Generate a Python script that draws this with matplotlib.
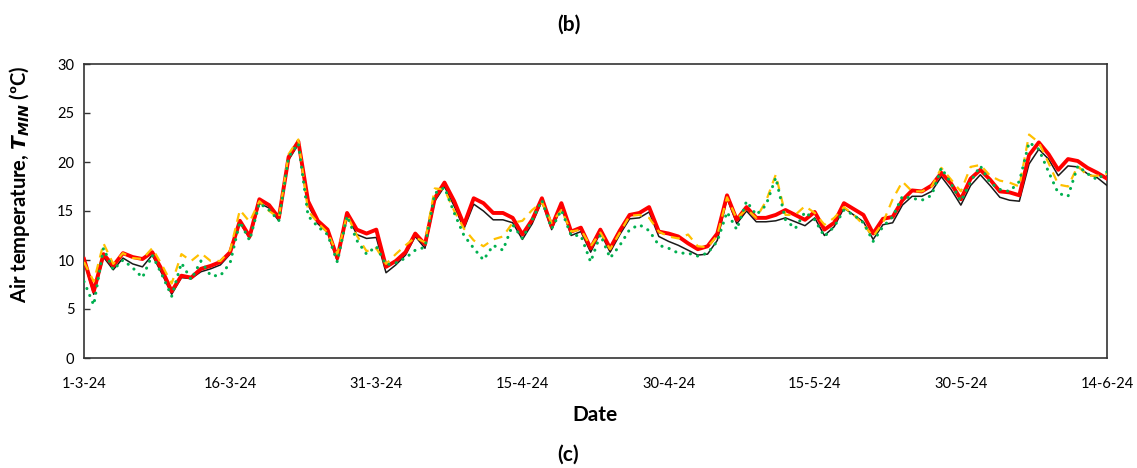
import matplotlib
matplotlib.use("Agg")
import matplotlib.pyplot as plt
import matplotlib.dates as mdates
from matplotlib.ticker import FuncFormatter
import pandas as pd

dates = pd.date_range("2024-03-01", "2024-06-14", freq="D")

red = [10.1, 6.8, 10.6, 9.4, 10.7, 10.3, 10.1, 10.8, 9.0, 6.8,
       8.4, 8.2, 9.1, 9.4, 9.8, 10.8, 14.0, 12.4, 16.2, 15.6,
       14.3, 20.5, 22.1, 16.0, 14.0, 13.1, 10.2, 14.8, 13.1, 12.7,
       13.1, 9.3, 9.9, 10.8, 12.7, 11.6, 16.3, 17.9, 16.0, 13.6,
       16.3, 15.8, 14.8, 14.8, 14.3, 12.6, 14.1, 16.3, 13.4, 15.8,
       12.9, 13.3, 11.2, 13.1, 11.2, 13.0, 14.6, 14.8, 15.4, 12.9,
       12.7, 12.4, 11.7, 11.1, 11.4, 12.7, 16.6, 14.1, 15.4, 14.3,
       14.3, 14.6, 15.1, 14.6, 14.1, 14.9, 13.1, 13.8, 15.8, 15.2,
       14.6, 12.7, 14.2, 14.4, 16.1, 17.1, 17.0, 17.6, 18.9, 17.8,
       16.2, 18.3, 19.2, 18.2, 17.0, 16.9, 16.6, 20.7, 22.0, 20.8,
       19.2, 20.3, 20.1, 19.4, 18.9, 18.3]

black = [9.9, 6.5, 10.3, 9.0, 10.2, 9.6, 9.3, 10.5, 8.6, 6.5,
         8.2, 8.1, 8.8, 9.1, 9.5, 10.6, 13.8, 12.2, 15.8, 15.3,
         14.0, 20.2, 21.8, 15.6, 13.7, 12.8, 9.9, 14.6, 12.6, 12.2,
         12.3, 8.7, 9.5, 10.5, 12.4, 11.2, 16.0, 17.5, 15.5, 13.2,
         15.7, 15.0, 14.1, 14.1, 13.8, 12.1, 13.7, 16.0, 13.1, 15.4,
         12.5, 12.9, 10.8, 12.8, 10.8, 12.6, 14.2, 14.3, 14.9, 12.4,
         11.9, 11.5, 11.0, 10.5, 10.6, 12.0, 16.3, 13.7, 15.0, 13.9,
         13.9, 14.0, 14.3, 13.9, 13.5, 14.3, 12.5, 13.4, 15.3, 14.6,
         13.9, 12.1, 13.6, 13.8, 15.6, 16.5, 16.5, 17.0, 18.5, 17.2,
         15.6, 17.6, 18.7, 17.6, 16.4, 16.1, 16.0, 19.8, 21.3, 20.3,
         18.6, 19.6, 19.5, 18.8, 18.4, 17.6]

yellow = [9.8, 7.8, 11.7, 9.6, 10.7, 10.2, 10.1, 11.2, 9.5, 7.6,
          10.6, 9.9, 10.7, 9.9, 9.9, 11.0, 15.1, 13.9, 16.0, 15.0,
          14.3, 20.8, 22.3, 15.0, 13.8, 12.8, 10.6, 14.6, 12.5, 10.9,
          11.2, 9.6, 10.6, 11.5, 12.3, 11.8, 17.3, 17.2, 15.0, 13.2,
          12.0, 11.4, 12.1, 12.4, 13.8, 14.0, 15.1, 15.9, 13.8, 15.1,
          12.9, 13.1, 11.4, 12.8, 11.1, 12.8, 14.5, 14.6, 14.3, 12.9,
          12.4, 12.2, 12.6, 11.4, 11.3, 12.5, 16.4, 14.2, 15.2, 14.3,
          16.0, 18.7, 14.6, 14.6, 15.5, 14.8, 13.6, 14.3, 15.4, 14.6,
          13.6, 12.4, 13.8, 16.2, 18.0, 17.0, 17.0, 17.5, 19.4, 18.2,
          17.0, 19.5, 19.7, 18.6, 18.1, 17.9, 17.5, 22.8, 22.0, 19.9,
          17.7, 17.5, 19.6, 18.6, 18.6, 18.8]

green = [7.8, 5.4, 11.2, 9.0, 10.0, 9.2, 8.2, 10.5, 8.5, 6.3,
         9.7, 8.0, 9.9, 8.4, 8.4, 9.7, 13.9, 12.0, 15.8, 15.1,
         14.0, 20.5, 21.9, 14.5, 13.4, 12.6, 9.8, 14.5, 12.0, 10.6,
         11.4, 9.5, 9.7, 10.2, 11.0, 11.3, 16.8, 17.4, 14.8, 12.5,
         11.2, 10.0, 11.5, 11.0, 13.6, 12.2, 14.1, 16.1, 13.2, 15.1,
         12.5, 12.5, 9.8, 12.6, 10.2, 11.5, 13.1, 13.6, 13.0, 11.5,
         11.2, 10.7, 10.7, 10.4, 10.7, 11.9, 14.9, 13.1, 16.0, 14.6,
         15.6, 18.4, 14.1, 13.2, 14.9, 14.1, 12.4, 13.4, 15.1, 14.6,
         13.8, 11.9, 13.4, 14.4, 16.5, 16.3, 16.1, 16.6, 19.4, 17.8,
         16.0, 18.0, 19.6, 17.9, 17.2, 17.0, 18.0, 22.0, 21.3, 19.0,
         16.8, 16.5, 19.6, 18.8, 18.2, 19.0]

y_ticks = [0, 5, 10, 15, 20, 25, 30]
x_tick_dates = pd.date_range("2024-03-01", "2024-06-14", freq="15D")

FONT = ["Lato", "DejaVu Sans"]

W, H = 1137, 468
fig = plt.figure(figsize=(W / 100, H / 100), dpi=100)
ax = fig.add_axes([84 / W, 1 - 358 / H, (1107 - 84) / W, (358 - 64) / H])

ax.plot(dates, black, color="#1a1a1a", lw=1.1, solid_joinstyle="round", zorder=3)
ax.plot(dates, red, color="#FF0000", lw=2.8, solid_joinstyle="round", zorder=4)
ax.plot(dates, yellow, color="#FFC000", lw=1.6, linestyle=(0, (4, 3)), zorder=5)
ax.plot(dates, green, color="#00B050", lw=2.2, linestyle=(0, (0.05, 2.4)),
        dash_capstyle="round", zorder=6)

ax.set_xlim(dates[0], dates[-1])
ax.set_ylim(0, 30)
ax.set_yticks(y_ticks)
ax.set_xticks(x_tick_dates)
ax.xaxis.set_major_formatter(FuncFormatter(
    lambda v, p: (lambda d: f"{d.day}-{d.month}-{d.strftime('%y')}")(mdates.num2date(v))))

for lbl in ax.get_xticklabels() + ax.get_yticklabels():
    lbl.set_fontfamily(FONT)
    lbl.set_fontsize(10.5)
ax.tick_params(axis="y", direction="in", length=4, width=1, pad=7, colors="#333333",
               labelcolor="black")
ax.tick_params(axis="x", length=0, pad=14, labelcolor="black")

for s in ax.spines.values():
    s.set_color("#333333")
    s.set_linewidth(1.2)

ax.set_xlabel("Date", fontsize=15, fontweight="bold", family=FONT, labelpad=10)
ax.set_ylabel(r"Air temperature, $\bfit{T}_{\bfit{MIN}}$ (ºC)", fontsize=14.5,
              fontweight="bold", family=FONT)
ax.yaxis.set_label_coords(-0.051, 0.59)

fig.text(0.5, 1 - 25 / H, "(b)", ha="center", va="center", fontsize=15,
         fontweight="bold", family=FONT)
fig.text(0.5, 1 - 455 / H, "(c)", ha="center", va="center", fontsize=15,
         fontweight="bold", family=FONT)

fig.savefig("out.png", dpi=100)
